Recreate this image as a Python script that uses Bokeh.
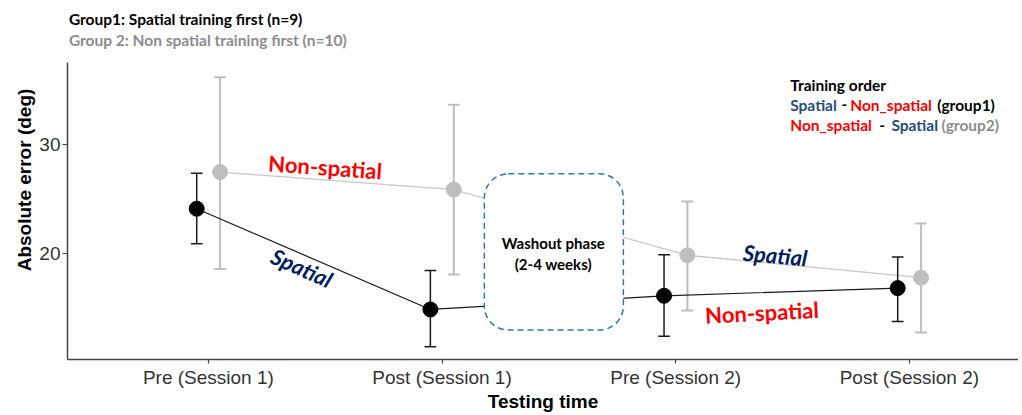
import numpy as np
from bokeh.plotting import figure
from bokeh.models import Label, BoxAnnotation, FixedTicker, Range1d
from bokeh.embed import file_html
from bokeh.resources import INLINE

# ---------------- data ----------------
categories = ["Pre (Session 1)", "Post (Session 1)", "Pre (Session 2)", "Post (Session 2)"]
g1_mean = [24.1, 14.9, 16.15, 16.85]
g1_upper = [27.35, 18.45, 19.9, 19.7]
g1_lower = [20.9, 11.5, 12.45, 13.8]
g2_mean = [27.45, 25.85, 19.85, 17.8]
g2_upper = [36.1, 33.6, 24.75, 22.75]
g2_lower = [18.6, 18.1, 14.8, 12.8]
y_ticks = [20, 30]

title1 = "Group1: Spatial training first (n=9)"
title2 = "Group 2: Non spatial training first (n=10)"
x_title = "Testing time"
y_title = "Absolute error (deg)"

# ---------------- styles ----------------
BLACK = "#000000"
GREY_PT = "#BEBEBE"
GREY_LN = "#C8C8C8"
RED = "#FF0000"
NAVY = "#002060"
LEG_BLUE = "#1F4E79"
GREY_TXT = "#8C8C8C"
BOX_BLUE = "#2E75B6"
ARIAL = "Liberation Sans"
CAL = "Lato"

dodge = 0.05
cap = 0.025
y_lo, y_hi_axis = 10.33, 37.43

xi = np.arange(1, len(categories) + 1)
g1x = xi - dodge
g2x = xi + dodge

p = figure(width=1018, height=414,
           x_range=Range1d(0.397, 4.467), y_range=Range1d(y_lo, 43.12),
           output_backend="svg", toolbar_location=None,
           min_border_left=67, min_border_right=0,
           min_border_top=0, min_border_bottom=51)
p.outline_line_color = None
p.xgrid.visible = False
p.ygrid.visible = False
p.background_fill_color = "white"
p.border_fill_color = "white"

# axes
for ax in (p.xaxis[0], p.yaxis[0]):
    ax.axis_line_color = "#444444"
    ax.axis_line_width = 1.5
    ax.major_tick_line_color = "#444444"
    ax.major_tick_line_width = 1.2
    ax.minor_tick_line_color = None
    ax.major_tick_in = 0
    ax.major_label_text_font = ARIAL
    ax.major_label_text_font_size = "19px"
    ax.major_label_text_color = "#333333"
    ax.axis_label_text_font = ARIAL
    ax.axis_label_text_font_size = "19px"
    ax.axis_label_text_font_style = "bold"
    ax.axis_label_text_color = "black"
p.xaxis.major_tick_out = 4
p.yaxis.major_tick_out = 5
p.xaxis.ticker = FixedTicker(ticks=list(xi))
p.xaxis.major_label_overrides = {int(i): c for i, c in zip(xi, categories)}
p.xaxis.major_label_standoff = 3
p.xaxis.axis_label = x_title
p.xaxis.axis_label_standoff = 0
p.yaxis.ticker = FixedTicker(ticks=y_ticks)
p.yaxis.major_label_standoff = 2
p.yaxis.axis_label = y_title
p.yaxis.axis_label_standoff = 1
p.yaxis.bounds = (y_lo, y_hi_axis)

# group 2 (grey)
p.line(g2x, g2_mean, line_color=GREY_LN, line_width=1.3)
p.segment(g2x, g2_lower, g2x, g2_upper, line_color=GREY_PT, line_width=2)
p.segment(g2x - cap, g2_upper, g2x + cap, g2_upper, line_color=GREY_PT, line_width=2)
p.segment(g2x - cap, g2_lower, g2x + cap, g2_lower, line_color=GREY_PT, line_width=2)
p.scatter(g2x, g2_mean, size=15, fill_color=GREY_PT, line_color=GREY_PT)

# group 1 (black)
p.line(g1x, g1_mean, line_color="#1a1a1a", line_width=1.2)
p.segment(g1x, g1_lower, g1x, g1_upper, line_color="#1a1a1a", line_width=1.5)
p.segment(g1x - cap, g1_upper, g1x + cap, g1_upper, line_color="#1a1a1a", line_width=1.5)
p.segment(g1x - cap, g1_lower, g1x + cap, g1_lower, line_color="#1a1a1a", line_width=1.5)
p.scatter(g1x, g1_mean, size=15, fill_color=BLACK, line_color=BLACK)

# washout box
box = BoxAnnotation(left=2.181, right=2.776, bottom=13.02, top=27.29,
                    fill_color="white", fill_alpha=1.0,
                    line_color=BOX_BLUE, line_alpha=1.0, line_width=1.5,
                    line_dash="6 4", border_radius=24)
p.add_layout(box)


def lab(text, x, y, color="black", size="15.5px", style="bold", font=CAL,
        align="left", baseline="middle", angle=0.0):
    p.add_layout(Label(x=x, y=y, text=text, text_color=color, text_font=font,
                       text_font_size=size, text_font_style=style,
                       text_align=align, text_baseline=baseline,
                       angle=angle, angle_units="deg"))


lab("Washout phase", 2.476, 20.97, size="15px", align="center")
lab("(2-4 weeks)", 2.476, 19.07, size="15px", align="center")

# in-plot annotations
lab("Non-spatial", 1.50, 27.92, color=RED, size="22px", align="center", angle=-4)
lab("Spatial", 1.40, 18.71, color=NAVY, size="22px", style="bold italic", align="center", angle=-24)
lab("Spatial", 3.426, 19.86, color=NAVY, size="22px", style="bold italic", align="center", angle=-5)
lab("Non-spatial", 3.369, 14.64, color=RED, size="22px", align="center", angle=3)

# titles
lab(title1, 0.403, 41.47, color="black")
lab(title2, 0.403, 39.49, color=GREY_TXT)

# legend block
lab("Training order", 3.490, 35.42)
lab("Spatial", 3.490, 33.61, color=LEG_BLUE)
lab("-", 3.709, 33.61)
lab("Non_spatial", 3.747, 33.61, color=RED)
lab("(group1)", 4.119, 33.61)
lab("Non_spatial", 3.490, 31.72, color=RED)
lab("-", 3.871, 31.72)
lab("Spatial", 3.923, 31.72, color=LEG_BLUE)
lab("(group2)", 4.137, 31.72, color=GREY_TXT)

open("out.html", "w").write(file_html(p, INLINE))
